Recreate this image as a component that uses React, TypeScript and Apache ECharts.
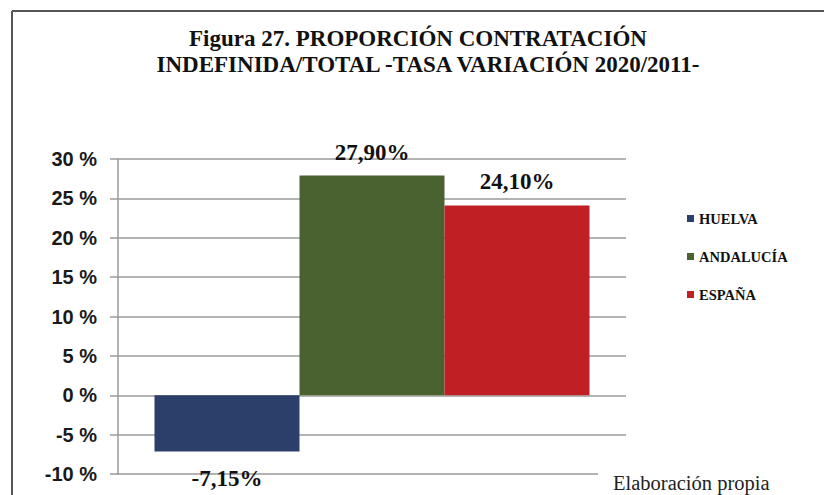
import React, { useEffect, useRef } from "react";
import * as echarts from "echarts";

const titleLines = ["Figura 27. PROPORCIÓN CONTRATACIÓN", "INDEFINIDA/TOTAL -TASA VARIACIÓN 2020/2011-"];
const categories = [""];
const seriesNames = ["HUELVA", "ANDALUCÍA", "ESPAÑA"];
const seriesValues = [-7.15, 27.9, 24.1];
const seriesColors = ["#2c3e6a", "#4a6130", "#c01f23"];
const yMin = -10;
const yMax = 30;
const yInterval = 5;
const sourceText = "Elaboración propia";

const fmt = (v: number) => v.toFixed(2).replace(".", ",") + "%";

export default function App() {
  const ref = useRef<HTMLDivElement>(null);
  useEffect(() => {
    if (!ref.current) return;
    const chart = echarts.init(ref.current, null, { renderer: "svg" });
    const serif = "'Liberation Serif', 'Times New Roman', serif";
    chart.setOption({
      animation: false,
      backgroundColor: "#ffffff",
      grid: { left: 118, right: 198, top: 159, bottom: 21, containLabel: false },
      legend: {
        orient: "vertical",
        left: 682,
        top: 206,
        itemWidth: 7,
        itemHeight: 7,
        itemGap: 23,
        icon: "rect",
        textStyle: { fontFamily: serif, fontWeight: "bold", fontSize: 14.5, color: "#111" },
        data: seriesNames,
      },
      xAxis: {
        type: "category",
        data: categories,
        show: false,
      },
      yAxis: {
        type: "value",
        min: yMin,
        max: yMax,
        interval: yInterval,
        axisLine: { show: true, lineStyle: { color: "#9a9a9a", width: 1.5 } },
        axisTick: { show: true, length: 8, lineStyle: { color: "#9a9a9a", width: 1.5 } },
        axisLabel: {
          formatter: (v: number) => `${v} %`,
          fontFamily: "'Liberation Sans', Arial, sans-serif",
          fontWeight: "bold",
          fontSize: 20,
          color: "#1a1a1a",
          margin: 21,
        },
        splitLine: { show: true, lineStyle: { color: "#9a9a9a", width: 1.5 } },
      },
      series: seriesNames.map((name, i) => ({
        name,
        type: "bar",
        barWidth: 145,
        barGap: "0%",
        itemStyle: { color: seriesColors[i] },
        data: [seriesValues[i]],
        label: {
          show: true,
          position: seriesValues[i] < 0 ? "bottom" : "top",
          distance: seriesValues[i] < 0 ? 15 : 12,
          formatter: (p: any) => fmt(p.value),
          fontFamily: serif,
          fontWeight: "bold",
          fontSize: 23,
          color: "#111",
        },
      })),
      graphic: [
        { type: "line", z: 100, shape: { x1: 12, y1: 11, x2: 824, y2: 11 }, style: { stroke: "#555", lineWidth: 2 } },
        { type: "line", z: 100, shape: { x1: 12, y1: 11, x2: 12, y2: 495 }, style: { stroke: "#555", lineWidth: 2 } },
        {
          type: "text",
          x: 418,
          y: 38,
          style: { text: titleLines[0], fontFamily: serif, fontWeight: "bold", fontSize: 23, fill: "#111", align: "center", verticalAlign: "middle" },
        },
        {
          type: "text",
          x: 428,
          y: 64,
          style: { text: titleLines[1], fontFamily: serif, fontWeight: "bold", fontSize: 23, fill: "#111", align: "center", verticalAlign: "middle" },
        },
        { type: "rect", z: 50, shape: { x: 598, y: 466, width: 226, height: 29 }, style: { fill: "#ffffff" } },
        {
          type: "text",
          z: 60,
          x: 613,
          y: 483,
          style: { text: sourceText, fontFamily: serif, fontSize: 20.5, fill: "#222", align: "left", verticalAlign: "middle" },
        },
      ],
    });
    return () => chart.dispose();
  }, []);
  return <div ref={ref} style={{ position: "absolute", left: 0, top: 0, width: 824, height: 495 }} />;
}
